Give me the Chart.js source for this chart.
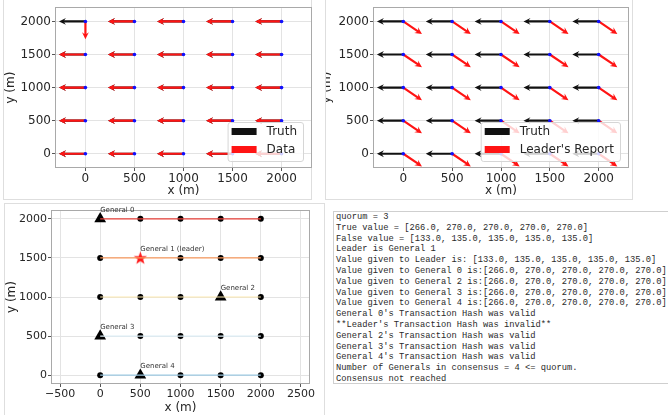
<!DOCTYPE html>
<html>
<head>
<meta charset="utf-8">
<script src="https://cdn.jsdelivr.net/npm/chart.js@4.4.0/dist/chart.umd.min.js"></script>
<style>
html, body { margin: 0; padding: 0; background: #fff; }
#page { position: relative; width: 668px; height: 415px; overflow: hidden; background: #fff; }
.frame { position: absolute; box-sizing: border-box; border: 1px solid #dedede; }
.clip { position: absolute; overflow: hidden; }
canvas { position: absolute; }
#log {
  position: absolute; left: 333px; top: 211px; width: 345px; height: 173px;
  box-sizing: border-box; border: 1px solid #cfcfcf; border-right: none;
  margin: 0; padding: 0 0 0 2px;
  font: 8.75px/10.8px "Liberation Mono", monospace; color: #2a2a2a; white-space: pre;
}
</style>
</head>
<body>
<div id="page">
  <div class="frame" style="left:3px;top:-2px;width:309px;height:202px;border-top:none"></div>
  <div class="frame" style="left:325px;top:-2px;width:308px;height:202px;border-top:none"></div>
  <div class="frame" style="left:4px;top:203px;width:321px;height:220px"></div>

  <canvas id="truthData" width="325" height="199" style="left:0;top:0"></canvas>
  <div class="clip" style="left:326px;top:0;width:306px;height:199px">
    <canvas id="leaderReport" width="316" height="199" style="left:-10px;top:0"></canvas>
  </div>
  <canvas id="generals" width="320" height="212" style="left:4px;top:203px"></canvas>

<pre id="log">quorum = 3
True value = [266.0, 270.0, 270.0, 270.0, 270.0]
False value = [133.0, 135.0, 135.0, 135.0, 135.0]
Leader is General 1
Value given to Leader is: [133.0, 135.0, 135.0, 135.0, 135.0]
Value given to General 0 is:[266.0, 270.0, 270.0, 270.0, 270.0]
Value given to General 2 is:[266.0, 270.0, 270.0, 270.0, 270.0]
Value given to General 3 is:[266.0, 270.0, 270.0, 270.0, 270.0]
Value given to General 4 is:[266.0, 270.0, 270.0, 270.0, 270.0]
General 0's Transaction Hash was valid
**Leader's Transaction Hash was invalid**
General 2's Transaction Hash was valid
General 3's Transaction Hash was valid
General 4's Transaction Hash was valid
Number of Generals in consensus = 4 &lt;= quorum.
Consensus not reached</pre>
</div>

<script>
Chart.defaults.font.family = '"DejaVu Sans", sans-serif';
Chart.defaults.color = '#262626';
Chart.defaults.animation = false;

// grid of sensor nodes (m)
const gridX = [0, 500, 1000, 1500, 2000];
const gridY = [0, 500, 1000, 1500, 2000];

// tick labels
const quiverTicksX = [0, 500, 1000, 1500, 2000];
const quiverTicksY = [0, 500, 1000, 1500, 2000];
const mapTicksX = [-500, 0, 500, 1000, 1500, 2000, 2500];
const mapTicksY = [0, 500, 1000, 1500, 2000];

// arrow length in metres
const arrowLength = 270;

// compass direction (deg) at each node, rows follow gridY, columns follow gridX
const truthDir = [
  [270, 270, 270, 270, 270],
  [270, 270, 270, 270, 270],
  [270, 270, 270, 270, 270],
  [270, 270, 270, 270, 270],
  [270, 270, 270, 270, 270]
];
const dataDir = [
  [270, 270, 270, 270, 270],
  [270, 270, 270, 270, 270],
  [270, 270, 270, 270, 270],
  [270, 270, 270, 270, 270],
  [180, 270, 270, 270, 270]
];
const reportDir = [
  [135, 135, 135, 135, 135],
  [135, 135, 135, 135, 135],
  [135, 135, 135, 135, 135],
  [135, 135, 135, 135, 135],
  [135, 135, 135, 135, 135]
];

// generals
const generalNames = ['General 0', 'General 1 (leader)', 'General 2', 'General 3', 'General 4'];
const generalX = [0, 500, 1500, 0, 500];
const generalY = [2000, 1500, 1000, 500, 0];
const leaderIdx = 1;

// line colour per row, y = 0 .. 2000
const rowColors = ['#9cc9e2', '#dcedf5', '#feeab0', '#f99a5e', '#e9403a'];

const nodes = () => gridY.flatMap(y => gridX.map(x => ({x, y})));

function fmt(v) {
  return v < 0 ? '\u2212' + (-v) : String(v);
}

function axis(min, max, ticks, title, o) {
  return {
    type: 'linear', min, max,
    afterBuildTicks: s => { s.ticks = ticks.map(v => ({value: v})); },
    afterFit: s => { if (s.isHorizontal()) s.height = o.size; else s.width = o.size; },
    grid: {color: '#e3e3e3', tickColor: '#555', tickLength: 4, lineWidth: 1},
    border: {display: false},
    ticks: {font: {size: o.tickSize}, padding: o.pad, callback: fmt, maxRotation: 0, autoSkip: false, color: '#262626'},
    title: {display: true, text: title, font: {size: 12}, padding: o.titlePad, color: '#262626'}
  };
}

function drawArrow(ctx, x0, y0, x1, y1, color) {
  const dx = x1 - x0, dy = y1 - y0, len = Math.hypot(dx, dy);
  const ux = dx / len, uy = dy / len, nx = -uy, ny = ux;
  const w = 1.1, hw = 3.4, hl = Math.min(7, len);
  const bx = x1 - ux * hl, by = y1 - uy * hl;
  const kx = x1 - ux * hl * 0.75, ky = y1 - uy * hl * 0.75;
  ctx.beginPath();
  ctx.moveTo(x0 + nx * w, y0 + ny * w);
  ctx.lineTo(kx + nx * w, ky + ny * w);
  ctx.lineTo(bx + nx * hw, by + ny * hw);
  ctx.lineTo(x1, y1);
  ctx.lineTo(bx - nx * hw, by - ny * hw);
  ctx.lineTo(kx - nx * w, ky - ny * w);
  ctx.lineTo(x0 - nx * w, y0 - ny * w);
  ctx.closePath();
  ctx.fillStyle = color;
  ctx.fill();
}

const quiver = {
  id: 'quiver',
  beforeDatasetsDraw(chart) {
    const {ctx, chartArea: a, scales: {x, y}} = chart;
    ctx.save();
    ctx.beginPath();
    ctx.rect(a.left, a.top, a.right - a.left, a.bottom - a.top);
    ctx.clip();
    chart.data.datasets.forEach(ds => {
      if (!ds.dirs) return;
      ds.data.forEach((p, i) => {
        const r = ds.dirs[i] * Math.PI / 180;
        const ex = p.x + arrowLength * Math.sin(r);
        const ey = p.y + arrowLength * Math.cos(r);
        drawArrow(ctx, x.getPixelForValue(p.x), y.getPixelForValue(p.y),
                  x.getPixelForValue(ex), y.getPixelForValue(ey), ds.arrowColor);
      });
    });
    ctx.restore();
  }
};

const frame = {
  id: 'frame',
  afterDatasetsDraw(chart) {
    const {ctx, chartArea: a} = chart;
    ctx.save();
    ctx.strokeStyle = '#a9a9a9';
    ctx.lineWidth = 1;
    ctx.strokeRect(Math.round(a.left) - 0.5, Math.round(a.top) - 0.5,
                   Math.round(a.right - a.left) + 1, Math.round(a.bottom - a.top) + 1);
    ctx.restore();
  }
};

const boxLegend = {
  id: 'boxLegend',
  afterDraw(chart) {
    const {ctx, chartArea: a} = chart;
    const items = chart.data.datasets.filter(d => d.arrowColor);
    ctx.save();
    ctx.font = '12px "DejaVu Sans"';
    const tw = Math.max(...items.map(d => ctx.measureText(d.label).width));
    const w = 4 + 25 + 10 + tw + 6, h = 39;
    const left = a.right - 8 - w, top = a.bottom - 6 - h;
    ctx.beginPath();
    ctx.roundRect(left + 0.5, top + 0.5, w, h, 2.5);
    ctx.fillStyle = 'rgba(255,255,255,0.8)';
    ctx.fill();
    ctx.strokeStyle = '#d6d6d6';
    ctx.stroke();
    items.forEach((d, i) => {
      const cy = top + 9.5 + i * 18;
      ctx.fillStyle = d.arrowColor;
      ctx.fillRect(left + 4, cy - 3.5, 25, 7);
      ctx.fillStyle = '#262626';
      ctx.textBaseline = 'middle';
      ctx.fillText(d.label, left + 39, cy);
    });
    ctx.restore();
  }
};

function quiverChart(id, redLabel, redDirs, yAxisWidth, padLeft, padRight) {
  new Chart(document.getElementById(id), {
    type: 'scatter',
    data: {
      datasets: [
        {label: 'Truth', data: nodes(), dirs: truthDir.flat(), arrowColor: '#111111', pointRadius: 0},
        {label: redLabel, data: nodes(), dirs: redDirs.flat(), arrowColor: '#ff1414', pointRadius: 0},
        {label: 'nodes', data: nodes(), pointRadius: 1.8, backgroundColor: '#1010ff', borderWidth: 0}
      ]
    },
    options: {
      responsive: false,
      events: [],
      layout: {padding: {top: 6, right: padRight, left: padLeft, bottom: 0}},
      plugins: {legend: {display: false}, tooltip: {enabled: false}},
      scales: {
        x: axis(-300, 2300, quiverTicksX, 'x (m)', {size: 32, tickSize: 12, pad: 1, titlePad: {top: 4, bottom: 1}}),
        y: axis(-200, 2200, quiverTicksY, 'y (m)', {size: yAxisWidth, tickSize: 12, pad: 1, titlePad: {top: 4, bottom: 1}})
      }
    },
    plugins: [quiver, frame, boxLegend]
  });
}

quiverChart('truthData', 'Data', dataDir, 56, 0, 14);
quiverChart('leaderReport', "Leader's Report", reportDir, 58, 0, 3);

// star marker for the leader
const star = document.createElement('canvas');
star.width = 15; star.height = 15;
{
  const c = star.getContext('2d');
  c.beginPath();
  for (let k = 0; k < 10; k++) {
    const r = k % 2 ? 2.8 : 7, t = -Math.PI / 2 + k * Math.PI / 5;
    c.lineTo(7.5 + r * Math.cos(t), 7.9 + r * Math.sin(t));
  }
  c.closePath();
  c.fillStyle = '#ff1a1a';
  c.fill();
}

const isGeneral = p => generalX.some((gx, i) => gx === p.x && generalY[i] === p.y);

const generalLabels = {
  id: 'generalLabels',
  afterDatasetsDraw(chart) {
    const {ctx, scales: {x, y}} = chart;
    ctx.save();
    ctx.font = '7px "DejaVu Sans"';
    ctx.fillStyle = '#333';
    ctx.textBaseline = 'middle';
    generalNames.forEach((n, i) => {
      ctx.fillText(n, x.getPixelForValue(generalX[i]), y.getPixelForValue(generalY[i]) - 8.5);
    });
    ctx.restore();
  }
};

new Chart(document.getElementById('generals'), {
  type: 'scatter',
  data: {
    datasets: [
      ...gridY.map((yv, r) => ({
        data: [{x: gridX[0], y: yv}, {x: gridX[gridX.length - 1], y: yv}],
        showLine: true, borderColor: rowColors[r], borderWidth: 1.2, pointRadius: 0
      })),
      {data: nodes().filter(p => !isGeneral(p)), pointRadius: 3, backgroundColor: '#000', borderWidth: 0},
      {data: generalX.map((gx, i) => ({x: gx, y: generalY[i]})).filter((p, i) => i !== leaderIdx),
       pointStyle: 'triangle', pointRadius: 6.8, backgroundColor: '#000', borderColor: '#000', borderWidth: 0},
      {data: [{x: generalX[leaderIdx], y: generalY[leaderIdx]}], pointStyle: star, pointRadius: 7}
    ]
  },
  options: {
    responsive: false,
    events: [],
    layout: {padding: {top: 4, right: 15, left: 0, bottom: 0}},
    plugins: {legend: {display: false}, tooltip: {enabled: false}},
    scales: {
      x: axis(-600, 2600, mapTicksX, 'x (m)', {size: 32, tickSize: 11, pad: 1, titlePad: {top: 4, bottom: 0}}),
      y: axis(-100, 2100, mapTicksY, 'y (m)', {size: 48, tickSize: 11, pad: 1, titlePad: {top: 1, bottom: 0}})
    }
  },
  plugins: [frame, generalLabels]
});
</script>
</body>
</html>
